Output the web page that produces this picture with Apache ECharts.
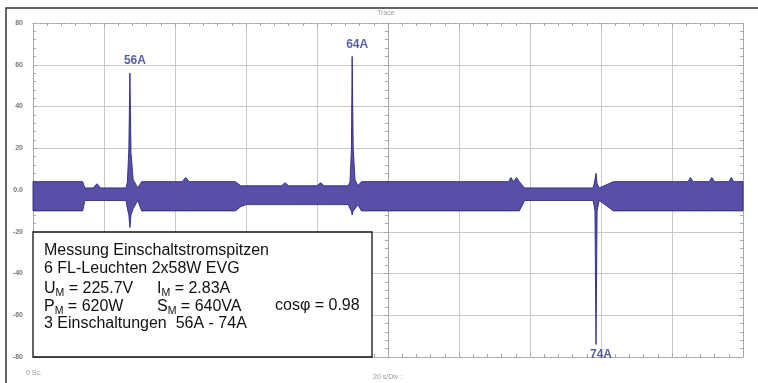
<!DOCTYPE html>
<html>
<head>
<meta charset="utf-8">
<script src="https://cdn.jsdelivr.net/npm/echarts@6/dist/echarts.min.js"></script>
<style>html,body{margin:0;padding:0;background:#fff}#c{width:758px;height:383px}</style>
</head>
<body>
<div id="c"></div>
<script>
// Envelope of the current trace (time in s, upper and lower envelope in A)
const envT  = [0, 14, 14.6, 17, 18, 19, 26.2, 26.6, 27.0, 27.3, 27.6, 28.2, 29.5, 30.6, 42, 43, 44, 57, 58.5, 60, 70, 71, 72, 80, 81, 82, 88.8, 89.3, 89.7, 89.9, 90.2, 90.7, 91.5, 92.5, 134, 134.6, 135.4, 136.2, 137, 138.5, 157.8, 158.3, 158.6, 158.9, 159.5, 163.5, 184.5, 185.2, 186, 190.5, 191.2, 192, 196, 196.7, 197.4, 200];
const envHi = [4, 4, 1, 1, 3, 1, 1, 4, 20, 56, 18, 5, 1, 4, 4, 6, 4, 4, 2, 2, 2, 3.5, 2, 2, 3.5, 2, 2, 4, 20, 64, 20, 5, 2, 4, 4, 6, 4, 6, 4, 1, 1, 5, 8, 3, 1, 4, 4, 6, 4, 4, 6, 4, 4, 6, 4, 4];
const envLo = [-10, -10, -5, -5, -5, -5, -5, -9, -12, -18, -12, -9, -5, -10, -10, -10, -10, -10, -8, -7, -7, -7, -7, -7, -7, -7, -7, -9, -10, -12, -10, -9, -7, -10, -10, -10, -10, -10, -10, -5, -5, -10, -74, -10, -5, -10, -10, -10, -10, -10, -10, -10, -10, -10, -10, -10];
// Peak annotations
const peakT = [27.3, 89.9, 158.6];
const peakV = [56, 64, -74];
const peakLabels = ['56A', '64A', '74A'];
// Axis
const yTicks = [-80, -60, -40, -20, 0, 20, 40, 60, 80];
const yTickLabels = ['-80', '-60', '-40', '-20', '0.0', '20', '40', '60', '80'];

const chart = echarts.init(document.getElementById('c'));
const axisGray = '#a8a8a8';
const gridGray = '#c9c9c9';
const envData = envT.map((t, i) => [t, envHi[i], envLo[i]]);

const minor = {show: true, splitNumber: 5, length: 3, lineStyle: {color: axisGray, width: 1}};
const baseX = {type: 'value', min: 0, max: 200, interval: 20, axisLabel: {show: false}, gridIndex: 0};
const baseY = {type: 'value', min: -80, max: 80, interval: 20, gridIndex: 0};
const FONT = 'Liberation Sans';
const sub = {a: {fontSize: 16, lineHeight: 19}, s: {fontSize: 10.5, lineHeight: 19, padding: [9, 0, 0, 0]}};

chart.setOption({
  animation: false,
  grid: {left: 33, right: 15, top: 23, bottom: 26},
  xAxis: [
    Object.assign({}, baseX, {position: 'bottom',
      axisLine: {show: true, onZero: false, lineStyle: {color: axisGray, type: 'dashed'}},
      axisTick: {show: true, inside: true, length: 4, lineStyle: {color: axisGray}},
      minorTick: minor,
      splitLine: {show: true, lineStyle: {color: gridGray, width: 1}}}),
    {type: 'value', min: -100, max: 100, interval: 20, gridIndex: 0,
      axisLabel: {show: false},
      axisLine: {show: true, onZero: true, onZeroAxisIndex: 0, lineStyle: {color: axisGray}},
      axisTick: {show: true, inside: true, length: 4, lineStyle: {color: axisGray}},
      minorTick: minor, splitLine: {show: false}},
    Object.assign({}, baseX, {position: 'top',
      axisLine: {show: true, onZero: false, lineStyle: {color: axisGray, type: 'dashed'}},
      axisTick: {show: true, inside: true, length: 4, lineStyle: {color: axisGray}},
      minorTick: minor, splitLine: {show: false}})
  ],
  yAxis: [
    Object.assign({}, baseY, {position: 'left',
      axisLine: {show: true, onZero: false, lineStyle: {color: axisGray}},
      axisTick: {show: true, inside: true, length: 4, lineStyle: {color: axisGray}},
      minorTick: minor,
      axisLabel: {show: true, margin: 10, fontSize: 7, fontWeight: 'bold', color: '#777', fontFamily: FONT,
        formatter: v => yTickLabels[yTicks.indexOf(v)]},
      splitLine: {show: true, lineStyle: {color: gridGray, width: 1}}}),
    {type: 'value', min: -80, max: 80, interval: 20, gridIndex: 0,
      axisLabel: {show: false},
      axisLine: {show: true, onZero: true, onZeroAxisIndex: 1, lineStyle: {color: axisGray}},
      axisTick: {show: true, inside: true, length: 4, lineStyle: {color: axisGray}},
      minorTick: minor, splitLine: {show: false}},
    Object.assign({}, baseY, {position: 'right',
      axisLabel: {show: false},
      axisLine: {show: true, onZero: false, lineStyle: {color: axisGray}},
      axisTick: {show: true, inside: true, length: 4, lineStyle: {color: axisGray}},
      minorTick: minor, splitLine: {show: false}})
  ],
  series: [
    {
      type: 'custom', xAxisIndex: 0, yAxisIndex: 0,
      data: envData,
      encode: {x: 0, y: [1, 2]},
      renderItem: function (params, api) {
        if (params.dataIndex !== 0) return;
        const pts = [];
        for (let i = 0; i < envT.length; i++) pts.push(api.coord([envT[i], envHi[i]]));
        for (let i = envT.length - 1; i >= 0; i--) pts.push(api.coord([envT[i], envLo[i]]));
        return {type: 'polygon', shape: {points: pts},
          style: {fill: '#5a4fa6', stroke: '#2e2882', lineWidth: 0.9}};
      },
      z: 3
    },
    {
      type: 'scatter', xAxisIndex: 0, yAxisIndex: 0, symbolSize: 0,
      data: peakT.map((t, i) => ({value: [t, peakV[i]], name: peakLabels[i],
        label: {position: peakV[i] < 0 ? 'bottom' : 'top', distance: peakV[i] < 0 ? 4 : 6}})),
      label: {show: true, formatter: p => p.name, color: '#2f3490', fontWeight: 'bold', fontSize: 12,
        fontFamily: FONT, offset: [5, 0]},
      z: 5
    }
  ],
  graphic: [
    {type: 'rect', z: 100, shape: {x: 6, y: 8, width: 800, height: 420}, style: {fill: 'none', stroke: '#333', lineWidth: 1.5}},
    {type: 'text', z: 100, x: 377, y: 10, style: {text: 'Trace', fontSize: 7, fill: '#999', fontFamily: FONT}},
    {type: 'text', z: 100, x: 26, y: 370, style: {text: '0 Sc.', fontSize: 7, fill: '#999', fontFamily: FONT}},
    {type: 'text', z: 100, x: 373, y: 374, style: {text: '20 s/Div :', fontSize: 7, fill: '#999', fontFamily: FONT}},
    {type: 'rect', z: 100, shape: {x: 33, y: 232, width: 339, height: 125}, style: {fill: '#ffffff', stroke: '#111', lineWidth: 1.3}},
    {type: 'text', z: 101, x: 44, y: 243, style: {text: 'Messung Einschaltstromspitzen', fontSize: 16, fill: '#111', fontFamily: FONT}},
    {type: 'text', z: 101, x: 44, y: 261, style: {text: '6 FL-Leuchten 2x58W EVG', fontSize: 16, fill: '#111', fontFamily: FONT}},
    {type: 'text', z: 101, x: 44, y: 279, style: {text: '{a|U}{s|M}{a| = 225.7V}', fill: '#111', fontFamily: FONT, rich: sub}},
    {type: 'text', z: 101, x: 157, y: 279, style: {text: '{a|I}{s|M}{a| = 2.83A}', fill: '#111', fontFamily: FONT, rich: sub}},
    {type: 'text', z: 101, x: 44, y: 297.5, style: {text: '{a|P}{s|M}{a| = 620W}', fill: '#111', fontFamily: FONT, rich: sub}},
    {type: 'text', z: 101, x: 157, y: 297.5, style: {text: '{a|S}{s|M}{a| = 640VA}', fill: '#111', fontFamily: FONT, rich: sub}},
    {type: 'text', z: 101, x: 275, y: 298, style: {text: 'cosφ = 0.98', fontSize: 16, fill: '#111', fontFamily: FONT}},
    {type: 'text', z: 101, x: 44, y: 316, style: {text: '3 Einschaltungen  56A - 74A', fontSize: 16, fill: '#111', fontFamily: FONT}}
  ]
});
</script>
</body>
</html>
